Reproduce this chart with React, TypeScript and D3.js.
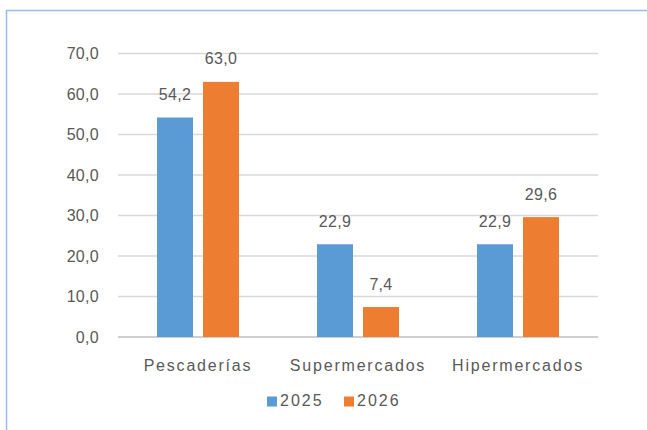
import React from "react";
import * as d3 from "d3";

const categories = ["Pescaderías", "Supermercados", "Hipermercados"];
const seriesNames = ["2025", "2026"];
const values2025 = [54.2, 22.9, 22.9];
const values2026 = [63.0, 7.4, 29.6];
const yTicks = [0, 10, 20, 30, 40, 50, 60, 70];

const colors = ["#5B9BD5", "#ED7D31"];
const textColor = "#595959";
const font = "'Liberation Sans', Arial, sans-serif";

const fmt = (v: number) => v.toFixed(1).replace(".", ",");

export default function App() {
  const W = 647;
  const H = 430;
  const left = 118;
  const right = 598;
  const top = 53.5;
  const bottom = 337;

  const x = d3.scaleBand<string>().domain(categories).range([left, right]).padding(0);
  const y = d3.scaleLinear().domain([0, 70]).range([bottom, top]);
  const barW = x.bandwidth() * 0.225;
  const gap = 10;
  const series = [values2025, values2026];

  return (
    <svg
      width={W}
      height={H}
      style={{ position: "absolute", left: 0, top: 0, background: "#fff" }}
      fontFamily={font}
    >
      <rect x={6.5} y={10.5} width={800} height={600} fill="none" stroke="#9DB9E6" strokeWidth={1.5} />
      {yTicks.map((t) => (
        <g key={t}>
          <line
            x1={left}
            x2={right}
            y1={y(t)}
            y2={y(t)}
            stroke={t === 0 ? "#BFBFBF" : "#D9D9D9"}
            strokeWidth={1.5}
          />
          <text
            x={99}
            y={y(t) + 5.5}
            textAnchor="end"
            fontSize={16}
            fill={textColor}
            letterSpacing={0.3}
          >
            {fmt(t)}
          </text>
        </g>
      ))}
      {categories.map((c, i) => {
        const cx = (x(c) as number) + x.bandwidth() / 2;
        return (
          <g key={c}>
            {series.map((vals, s) => {
              const bx = s === 0 ? cx - gap / 2 - barW : cx + gap / 2;
              const by = y(vals[i]);
              return (
                <g key={s}>
                  <rect x={bx} y={by} width={barW} height={bottom - by} fill={colors[s]} />
                  <text
                    x={bx + barW / 2}
                    y={by - 17.5}
                    textAnchor="middle"
                    fontSize={16}
                    fill={textColor}
                    letterSpacing={0.3}
                  >
                    {fmt(vals[i])}
                  </text>
                </g>
              );
            })}
            <text
              x={cx}
              y={371}
              textAnchor="middle"
              fontSize={16}
              fill={textColor}
              letterSpacing={1.8}
            >
              {c}
            </text>
          </g>
        );
      })}
      {seriesNames.map((n, s) => {
        const lx = s === 0 ? 267 : 344;
        return (
          <g key={n}>
            <rect x={lx} y={396.5} width={10} height={10} fill={colors[s]} />
            <text x={lx + 13} y={406} fontSize={16} fill={textColor} letterSpacing={2}>
              {n}
            </text>
          </g>
        );
      })}
    </svg>
  );
}
